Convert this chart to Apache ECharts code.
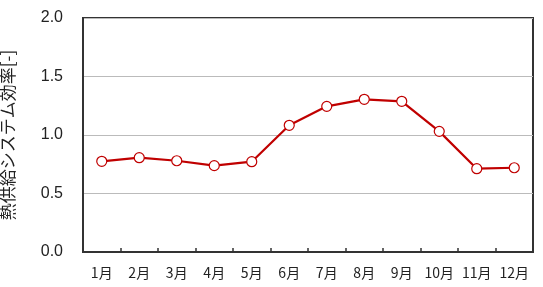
<!DOCTYPE html>
<html><head><meta charset="utf-8">
<script src="https://cdn.jsdelivr.net/npm/echarts@6/dist/echarts.min.js"></script>
<style>html,body{margin:0;padding:0;background:#fff}#c{width:543px;height:287px}</style>
</head><body><div id="c"></div>
<script>
const categories = ['1月','2月','3月','4月','5月','6月','7月','8月','9月','10月','11月','12月'];
const efficiency = [0.775, 0.806, 0.78, 0.738, 0.772, 1.083, 1.245, 1.305, 1.288, 1.031, 0.712, 0.72];
const yAxisName = '熱供給システム効率[-]';

const chart = echarts.init(document.getElementById('c'), null, {renderer:'canvas'});
chart.setOption({
  animation:false,
  grid:{left:83,right:10,top:18,bottom:35,show:true,borderColor:'#333',borderWidth:2,backgroundColor:'#fff',
    containLabel:false,outerBoundsMode:'none'},
  xAxis:{type:'category',data:categories,boundaryGap:true,
    axisLine:{lineStyle:{color:'#333',width:2}},
    axisTick:{show:true,inside:true,length:4,interval:0,alignWithLabel:false,lineStyle:{color:'#333',width:1.5}},
    axisLabel:{color:'#222',fontSize:14,margin:14,interval:0,fontFamily:'"Noto Sans CJK JP", sans-serif'}},
  yAxis:{type:'value',min:0,max:2,interval:0.5,
    name:yAxisName,nameLocation:'middle',nameGap:67,nameRotate:90,
    nameTextStyle:{fontSize:17,color:'#222',fontFamily:'"Noto Sans CJK JP", sans-serif'},
    axisLine:{show:true,lineStyle:{color:'#333',width:2}},
    axisTick:{show:false},
    axisLabel:{color:'#222',fontSize:16,margin:20,formatter:v=>v.toFixed(1),fontFamily:'"Liberation Sans", Arial, sans-serif'},
    splitLine:{lineStyle:{color:'#bbb',width:1}}},
  series:[{type:'line',data:efficiency,symbol:'circle',symbolSize:10,
    itemStyle:{color:'#fff',borderColor:'#c00000',borderWidth:1.2},
    lineStyle:{color:'#c00000',width:2.2},z:3}]
});
</script></body></html>
